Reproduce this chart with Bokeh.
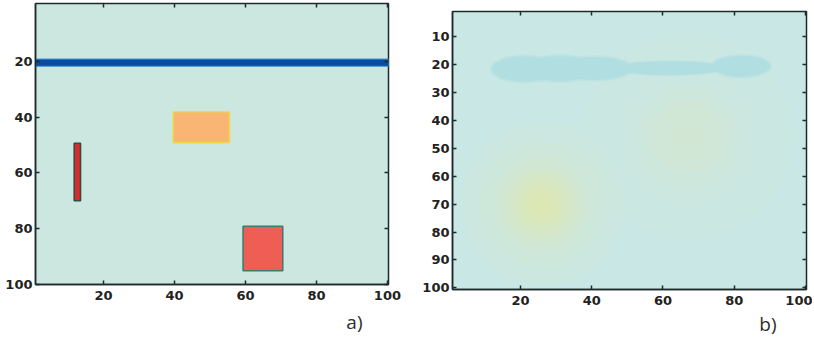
import numpy as np
from bokeh.plotting import figure
from bokeh.layouts import row, column
from bokeh.models import Range1d, FixedTicker, Title, Spacer, LinearAxis
from bokeh.embed import file_html
from bokeh.resources import INLINE

# ---------- data: panel a) ----------
bar_x0 = [0.8]
bar_x1 = [100.3]
bar_y0 = [19.2]
bar_y1 = [21.8]

rect_x0 = [39.6, 11.7, 59.3]
rect_x1 = [55.5, 13.5, 70.5]
rect_y0 = [38.1, 49.4, 79.1]
rect_y1 = [49.2, 70.0, 95.1]

a_xticks = [20, 40, 60, 80, 100]
a_yticks = [20, 40, 60, 80, 100]

# ---------- data: panel b) ----------
streak_cx = [21, 31, 41, 62, 82]
streak_cy = [21.6, 21.5, 21.4, 21.3, 20.6]
streak_w = [18, 20, 20, 30, 16]
streak_h = [9.0, 9.0, 8.2, 5.0, 7.5]

glow_cx = [26, 67]
glow_cy = [70, 46]
glow_strength = [0.78, 0.34]

b_xticks = [20, 40, 60, 80, 100]
b_yticks = [10, 20, 30, 40, 50, 60, 70, 80, 90, 100]

# ---------- styles ----------
rect_fill = ["#f9b574", "#d42b2b", "#ef5e55"]
rect_edge = ["#ecdc48", "#2f4d44", "#3e7a70"]
glow_color = ["#f7f59c", "#e6f2bc"]
glow_sigma_px = [20, 30]


def style(p, xt, yt):
    p.xaxis.ticker = FixedTicker(ticks=xt)
    p.yaxis.ticker = FixedTicker(ticks=yt)
    for ax in (p.xaxis[0], p.yaxis[0]):
        ax.major_tick_in = 4
        ax.major_tick_out = 0
        ax.minor_tick_line_color = None
        ax.axis_line_color = "#1c2a28"
        ax.axis_line_width = 1.5
        ax.major_tick_line_color = "#1c2a28"
        ax.major_tick_line_width = 1.5
        ax.major_label_text_font = "DejaVu Sans"
        ax.major_label_text_font_style = "bold"
        ax.major_label_text_font_size = "13px"
        ax.major_label_text_color = "#222222"
    p.xaxis.major_label_standoff = 6
    p.yaxis.major_label_standoff = 3
    p.grid.visible = False
    p.outline_line_color = "#1c2a28"
    p.outline_line_width = 1.5
    p.border_fill_color = "white"
    # tick-only mirror axes (top and right), labels not drawn
    for loc, ticks in (("above", xt), ("right", yt)):
        ax = LinearAxis(ticker=FixedTicker(ticks=ticks),
                        major_label_text_font_size="1px",
                        major_label_text_color=None,
                        major_label_standoff=0,
                        major_tick_in=4, major_tick_out=0,
                        major_tick_line_color="#1c2a28",
                        major_tick_line_width=1.5,
                        minor_tick_line_color=None,
                        axis_line_color=None)
        p.add_layout(ax, loc)


def add_tag(p, text, offset, standoff):
    t = Title(text=text, align="right", offset=offset, text_font="Open Sans",
              text_font_size="19px", text_font_style="normal",
              text_color="#2e2e2e", standoff=standoff)
    p.add_layout(t, "below")


# ---------- panel a ----------
p1 = figure(width=410, height=338, output_backend="svg", toolbar_location=None,
            x_range=Range1d(0.8, 100.3), y_range=Range1d(100, -0.7),
            min_border_left=35, min_border_right=22, min_border_top=3,
            min_border_bottom=54)
p1.title = None
p1.background_fill_color = "#cbe7e0"
style(p1, a_xticks, a_yticks)

p1.quad(left=bar_x0, right=bar_x1, bottom=bar_y1, top=bar_y0,
        fill_color="#0b4aa3", line_color="#3f9ad8", line_width=1)
p1.quad(left=rect_x0, right=rect_x1, bottom=rect_y1, top=rect_y0,
        fill_color=rect_fill, line_color=rect_edge, line_width=1.5)
add_tag(p1, "a)", 26, 8)

# ---------- panel b ----------
p2 = figure(width=402, height=330, output_backend="svg", toolbar_location=None,
            x_range=Range1d(0.9, 100.3), y_range=Range1d(100.6, 1.0),
            min_border_left=42, min_border_right=6, min_border_top=3,
            min_border_bottom=49)
p2.title = None
p2.background_fill_color = "#c9e7e4"
style(p2, b_xticks, b_yticks)

# soft glows: stacked translucent discs (bright core + wide faint halo)
LAYER_ALPHA = 0.06
for cx, cy, s, col, sig in zip(glow_cx, glow_cy, glow_strength, glow_color, glow_sigma_px):
    for scale, share in ((1.0, 0.65), (2.2, 0.35)):
        target = s * share
        n = max(3, int(round(np.log(1 - target) / np.log(1 - LAYER_ALPHA))))
        a = 1 - (1 - target) ** (1.0 / n)
        for k in range(1, n + 1):
            r = sig * scale * np.sqrt(2 * np.log((n + 0.5) / k))
            p2.scatter([cx], [cy], size=2 * r, marker="circle",
                       fill_color=col, fill_alpha=a, line_color=None)

# cyan streak
p2.ellipse(x=streak_cx, y=streak_cy, width=[w * 1.08 for w in streak_w],
           height=[h * 1.15 for h in streak_h],
           fill_color="#b8e1e2", fill_alpha=0.6, line_color=None)
p2.ellipse(x=streak_cx, y=streak_cy, width=streak_w, height=streak_h,
           fill_color="#b1dee0", fill_alpha=1.0, line_color=None)
add_tag(p2, "b)", 30, 2)

layout = row(p1, column(Spacer(height=8, width=402), p2))
open("out.html", "w").write(file_html(layout, INLINE))
